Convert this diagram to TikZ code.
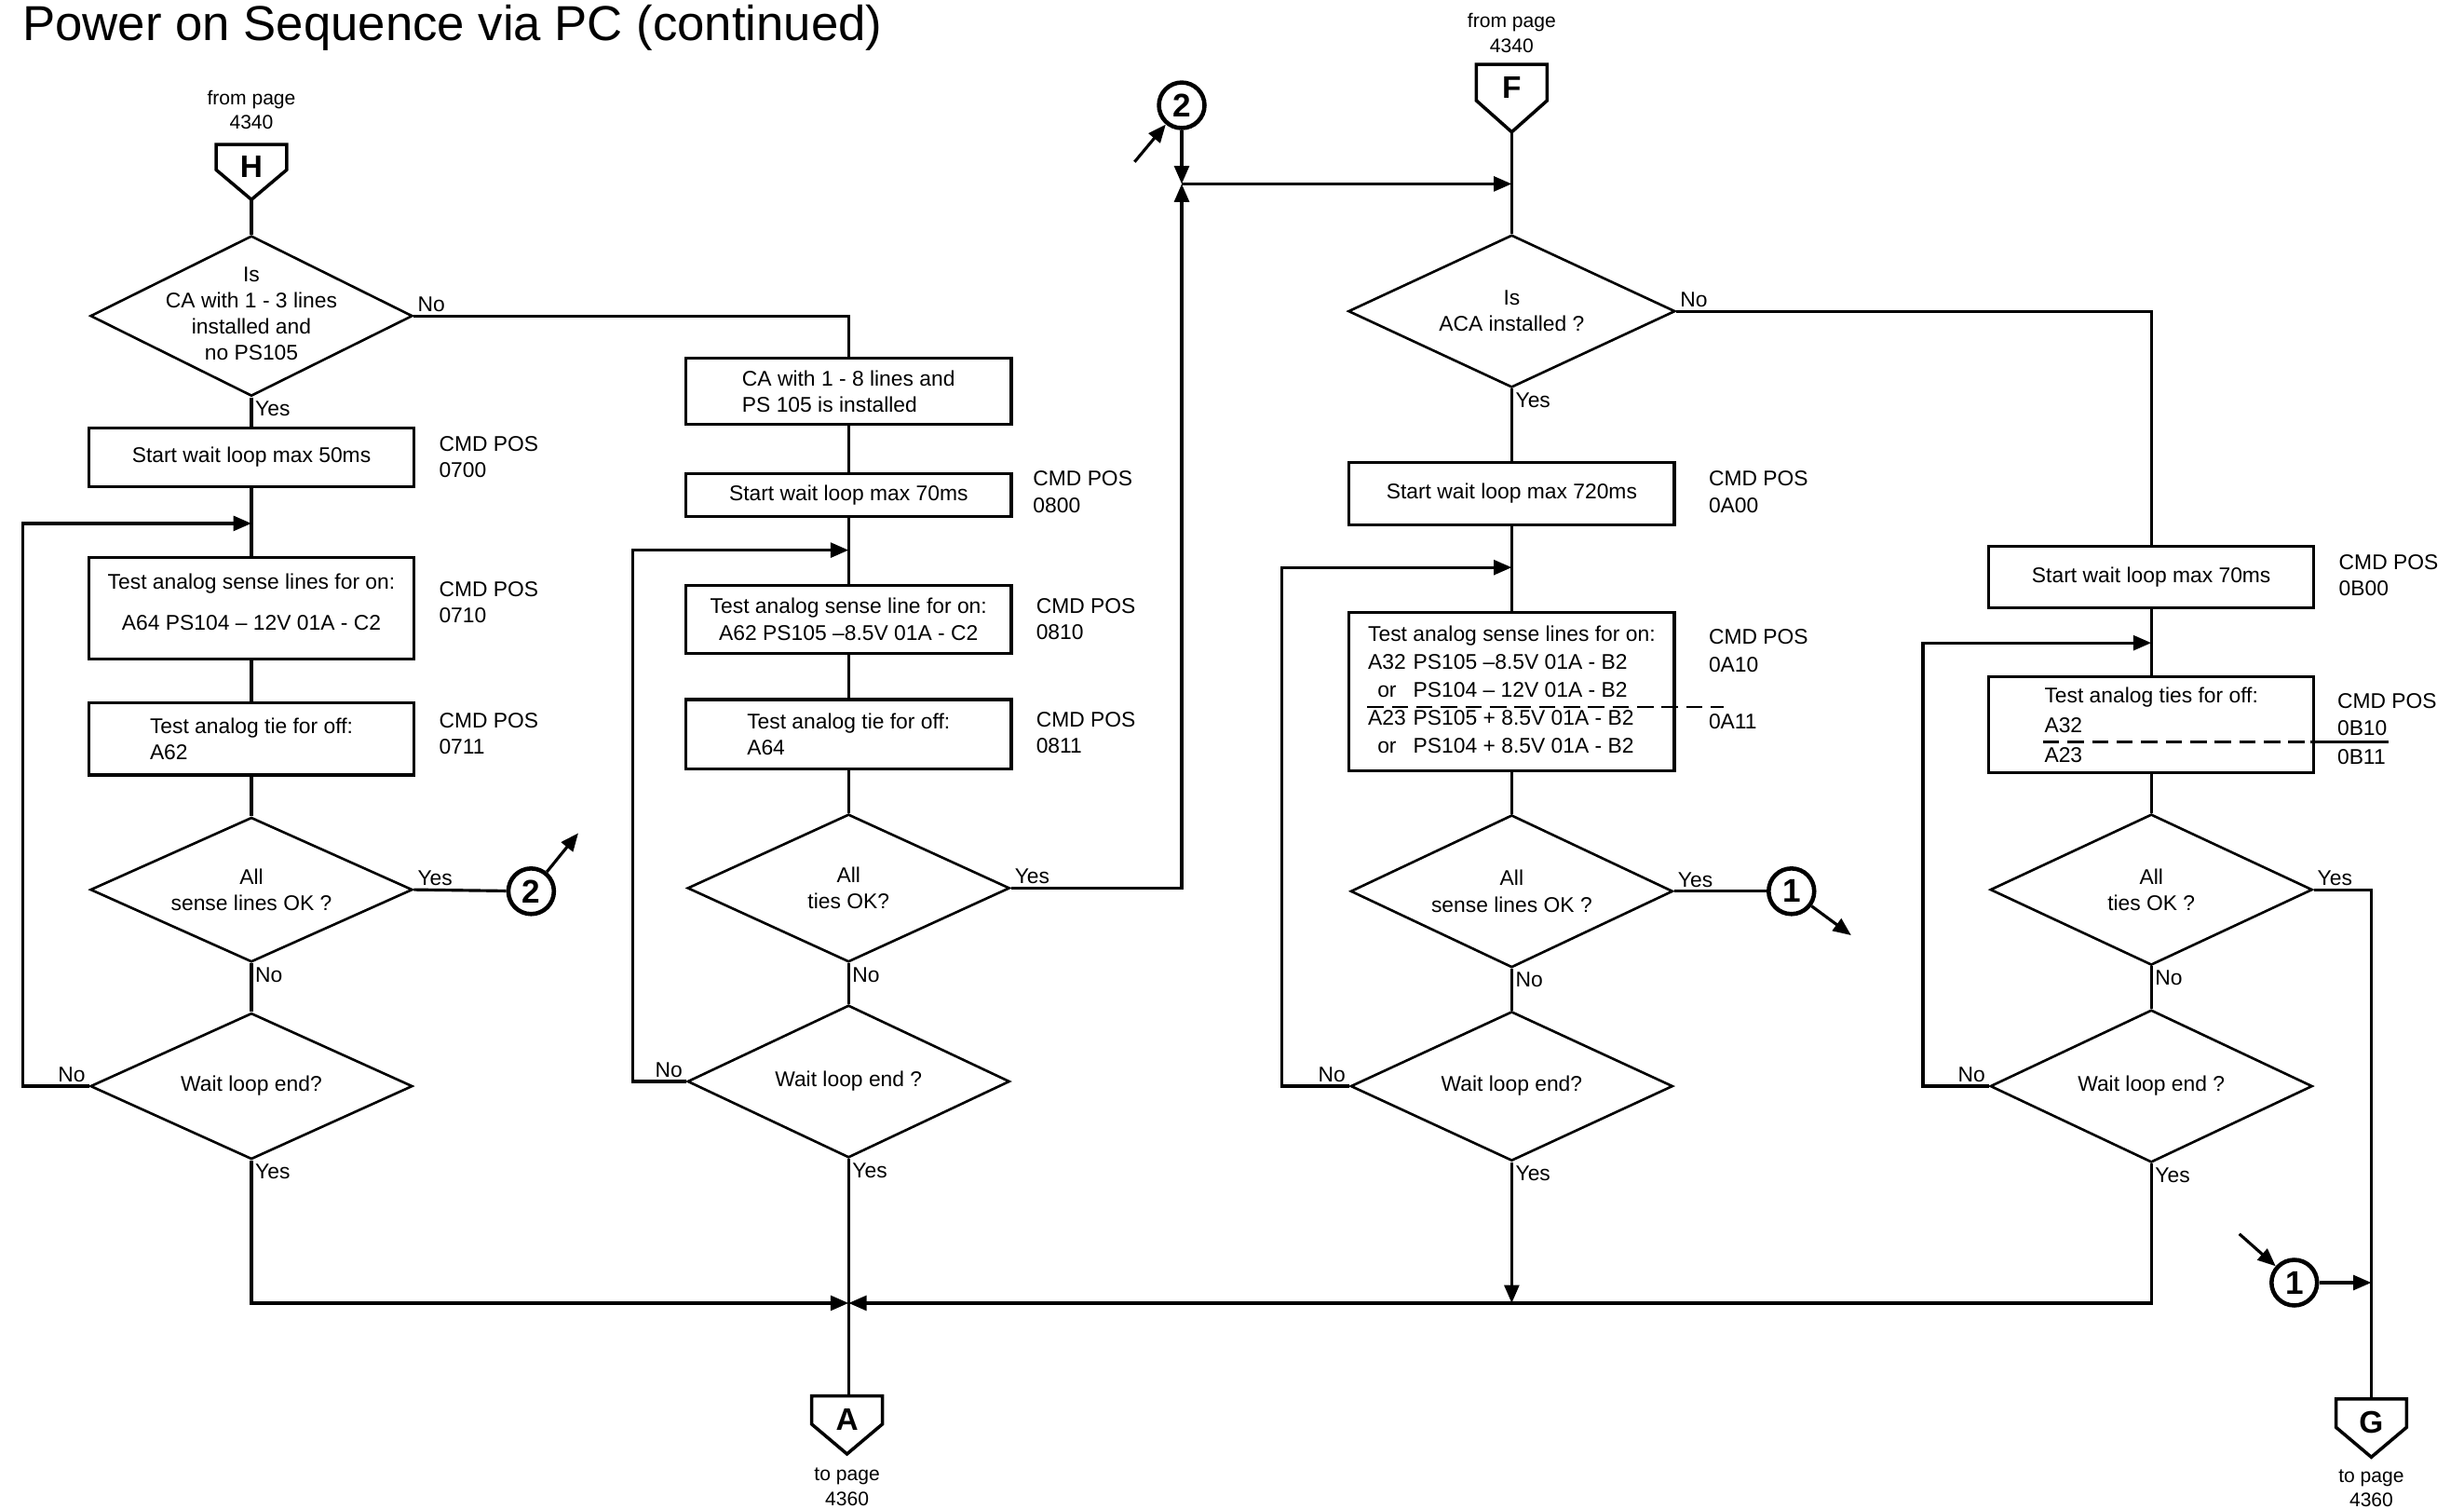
\documentclass[tikz,border=0pt]{standalone}
\usepackage{fontspec}
\setmainfont{Liberation Sans}
\usepackage{tikz}
\usetikzlibrary{arrows.meta,shapes.geometric,calc}
\newcommand{\unitpx}{0.016875cm}
\newcommand{\boxfont}{\fontsize{6.5}{8}\selectfont}
\tikzset{
  flow/.style={line width=0.9pt},
  arr/.style={flow,-{Triangle[length=5.5pt,width=4.5pt]}},
  procbox/.style={draw,line width=0.9pt,minimum width=207*\unitpx,inner sep=1pt,align=center,font=\boxfont},
  dec/.style={draw,diamond,line width=0.75pt,aspect=2.2,inner sep=0pt,minimum width=205*\unitpx,align=center,font=\boxfont},
  cmd/.style={anchor=west,align=left,inner sep=0pt,font=\boxfont},
  lbl/.style={inner sep=1pt,font=\boxfont},
  txt/.style={align=center,inner sep=0pt,font=\fontsize{6}{7.5}\selectfont},
  conn/.style={draw,circle,line width=1.3pt,minimum size=29*\unitpx,inner sep=0pt,font=\bfseries\fontsize{10}{10}\selectfont},
  pgletter/.style={inner sep=0pt,font=\bfseries\fontsize{9.5}{10}\selectfont},
  pgframe/.style={line width=1pt,line join=miter},
  sepline/.style={line width=0.6pt,dash pattern=on 5pt off 2.5pt}
}

\begin{document}
\begin{tikzpicture}[x=\unitpx,y=-\unitpx]
\useasboundingbox (0,0) rectangle (1568,960);
\node[anchor=west,inner sep=0pt,font=\fontsize{15}{18}\selectfont] (title) at (14,18) {Power on Sequence via PC (continued)};

% first column
\node[txt] (fromH) at (160,70) {from page\\4340};
\node[pgletter] (H) at (160,106) {H};
\draw[pgframe] ($(H)+(-22.5,-14)$) -- ($(H)+(22.5,-14)$) -- ($(H)+(22.5,2)$) -- ($(H)+(0,21)$) -- ($(H)+(-22.5,2)$) -- cycle;
\coordinate (Htip) at ($(H)+(0,21)$);
\node[dec,minimum height=102*\unitpx] (d11) at (160,201) {\makebox[0pt]{\begin{tabular}{@{}c@{}}Is\\CA with 1 - 3 lines\\installed and\\no PS105\end{tabular}}};
\node[procbox,minimum height=37*\unitpx] (b11) at (160,291) {Start wait loop max 50ms};
\node[cmd] (m11) at (279,291) {CMD POS\\0700};
\coordinate (j11) at (160,333);
\node[procbox,minimum height=65*\unitpx] (b12) at (160,387) {Test analog sense lines for on:\\[4.4pt]A64 PS104 – 12V 01A - C2\\[-4pt]\mbox{}};
\node[cmd] (m12) at (279,383) {CMD POS\\0710};
\node[procbox,minimum height=46*\unitpx,align=left] (b13) at (160,470) {Test analog tie for off:\\A62};
\node[cmd] (m13) at (279,467) {CMD POS\\0711};
\node[dec,minimum height=92*\unitpx] (d12) at (160,566) {All\\sense lines OK ?};
\node[conn] (c12) at (338,567) {2};
\coordinate (c12o) at (368,530);
\node[dec,minimum height=93*\unitpx] (d13) at (160,691) {Wait loop end?};

\draw[flow] (Htip) -- (d11);
\draw[flow] (d11) -- (b11);
\draw[flow] (b11) -- (b12);
\draw[flow] (b12) -- (b13);
\draw[flow] (b13) -- (d12);
\draw[flow] (d12) -- (d13);
\draw[flow] (d12.east) -- (c12);
\draw[arr] (c12) -- (c12o);
\draw[arr] (d13.west) -- ++(-42,0) |- (j11);
\node[lbl,anchor=north west] (y11) at (d11.south) {Yes};
\node[lbl,anchor=south west] (n12) at (d12.east) {Yes};
\node[lbl,anchor=north west] (n13) at (d12.south) {No};
\node[lbl,anchor=south east] (n14) at (d13.west) {No};
\node[lbl,anchor=north west] (y14) at (d13.south) {Yes};

% second column
\node[procbox,minimum height=42*\unitpx,align=left] (b21) at (540,249) {CA with 1 - 8 lines and\\PS 105 is installed};
\node[procbox,minimum height=27*\unitpx] (b22) at (540,315) {Start wait loop max 70ms};
\node[cmd] (m22) at (657,313) {CMD POS\\0800};
\coordinate (j21) at (540,350);
\node[procbox,minimum height=43*\unitpx] (b23) at (540,394) {Test analog sense line for on:\\A62 PS105 –8.5V 01A - C2};
\node[cmd] (m23) at (659,394) {CMD POS\\0810};
\node[procbox,minimum height=44*\unitpx,align=left] (b24) at (540,467) {Test analog tie for off:\\A64};
\node[cmd] (m24) at (659,466) {CMD POS\\0811};
\node[dec,minimum height=94*\unitpx] (d21) at (540,565) {All\\ties OK?};
\node[dec,minimum height=97*\unitpx] (d22) at (540,688) {Wait loop end ?};
\coordinate (j22) at (540,829);
\node[pgletter] (A) at (539,903) {A};
\draw[pgframe] ($(A)+(-22.5,-15)$) -- ($(A)+(22.5,-15)$) -- ($(A)+(22.5,3)$) -- ($(A)+(0,22)$) -- ($(A)+(-22.5,3)$) -- cycle;
\coordinate (Atop) at ($(A)+(0,-15)$);
\node[txt] (toA) at (539,946) {to page\\4360};

\draw[flow] (d11.east) -| (b21.north);
\node[lbl,anchor=south west] (n11) at (d11.east) {No};
\draw[flow] (b21) -- (b22);
\draw[flow] (b22) -- (b23);
\draw[flow] (b23) -- (b24);
\draw[flow] (b24) -- (d21);
\draw[flow] (d21) -- (d22);
\draw[flow] (d22.south) -- (d22.south |- Atop);
\draw[arr] (d22.west) -- ++(-34,0) |- (j21);
\draw[arr] (d13.south) |- (j22);
\node[lbl,anchor=north west] (n21) at (d21.south) {No};
\node[lbl,anchor=south east] (n22) at (d22.west) {No};
\node[lbl,anchor=north west] (y22) at (d22.south) {Yes};

% entry 2 and F
\node[conn] (c2t) at (752,67) {2};
\coordinate (c2ti) at (722,103);
\coordinate (jt) at (752,117);
\node[txt] (fromF) at (962,21) {from page\\4340};
\node[pgletter] (F) at (962,56) {F};
\draw[pgframe] ($(F)+(-22.5,-15)$) -- ($(F)+(22.5,-15)$) -- ($(F)+(22.5,8)$) -- ($(F)+(0,28)$) -- ($(F)+(-22.5,8)$) -- cycle;
\coordinate (Ftip) at ($(F)+(0,28)$);
\coordinate (jF) at (962,117);
\draw[arr] (c2ti) -- (c2t);
\draw[arr] (c2t) -- (jt);
\draw[arr] (d21.east) -| (jt);
\node[lbl,anchor=south west] (y21) at (d21.east) {Yes};
\draw[arr] (jt) -- (jF);

% third column
\node[dec,minimum height=97*\unitpx,minimum width=208*\unitpx] (d31) at (962,198) {Is\\ACA installed ?};
\node[procbox,minimum height=40*\unitpx] (b31) at (962,314) {Start wait loop max 720ms};
\node[cmd] (m31) at (1087,313) {CMD POS\\0A00};
\coordinate (j31) at (962,361);
\node[procbox,minimum height=101*\unitpx,font=\fontsize{6.5}{8.6}\selectfont] (b32) at (962,440) {%
  \begin{tabular}{@{}c@{\hspace{0.35em}}l@{}}
  \multicolumn{2}{@{}l@{}}{Test analog sense lines for on:}\\
  A32 & PS105 –8.5V 01A - B2\\
  or & PS104 – 12V 01A - B2\\
  A23 & PS105 + 8.5V 01A - B2\\
  or & PS104 + 8.5V 01A - B2
  \end{tabular}};
\node[cmd,font=\fontsize{6.5}{8.6}\selectfont] (m32) at (1087,432) {CMD POS\\0A10\\[8.6pt]0A11};
\draw[sepline] (870,450) -- (1097,450);
\node[dec,minimum height=97*\unitpx] (d32) at (962,567) {All\\sense lines OK ?};
\node[conn] (c31) at (1140,567) {1};
\coordinate (c31o) at (1178,595);
\node[dec,minimum height=95*\unitpx] (d33) at (962,691) {Wait loop end?};
\coordinate (j33) at (962,829);

\draw[flow] (Ftip) -- (d31);
\draw[flow] (d31) -- (b31);
\draw[flow] (b31) -- (b32);
\draw[flow] (b32) -- (d32);
\draw[flow] (d32) -- (d33);
\draw[flow] (d32.east) -- (c31);
\draw[arr] (c31) -- (c31o);
\draw[arr] (d33.west) -- ++(-43,0) |- (j31);
\draw[arr] (d33.south) -- (j33);
\node[lbl,anchor=north west] (y31) at (d31.south) {Yes};
\node[lbl,anchor=south west] (y32) at (d32.east) {Yes};
\node[lbl,anchor=north west] (n32) at (d32.south) {No};
\node[lbl,anchor=south east] (n33) at (d33.west) {No};
\node[lbl,anchor=north west] (y33) at (d33.south) {Yes};

% fourth column
\node[procbox,minimum height=39*\unitpx] (b41) at (1369,367) {Start wait loop max 70ms};
\node[cmd] (m41) at (1488,366) {CMD POS\\0B00};
\coordinate (j41) at (1369,409);
\node[procbox,minimum height=61*\unitpx,align=left,font=\fontsize{6.5}{9.1}\selectfont] (b42) at (1369,461) {Test analog ties for off:\\A32\\A23};
\node[cmd] (m42) at (1487,464) {CMD POS\\0B10\\[1pt]0B11};
\draw[sepline] (1300,472) -- (1470,472);
\draw[line width=0.6pt] (1470,472) -- (1520,472);
\node[dec,minimum height=96*\unitpx] (d41) at (1369,566) {All\\ties OK ?};
\node[dec,minimum height=97*\unitpx] (d42) at (1369,691) {Wait loop end ?};
\node[conn] (c41) at (1460,816) {1};
\coordinate (c41i) at (1425,785);
\node[pgletter] (G) at (1509,905) {G};
\draw[pgframe] ($(G)+(-22.5,-15)$) -- ($(G)+(22.5,-15)$) -- ($(G)+(22.5,3)$) -- ($(G)+(0,22)$) -- ($(G)+(-22.5,3)$) -- cycle;
\coordinate (Gtop) at ($(G)+(0,-15)$);
\node[txt] (toG) at (1509,947) {to page\\4360};

\draw[flow] (d31.east) -| (b41.north);
\node[lbl,anchor=south west] (n31) at (d31.east) {No};
\draw[flow] (b41) -- (b42);
\draw[flow] (b42) -- (d41);
\draw[flow] (d41) -- (d42);
\draw[flow] (d41.east) -| (Gtop);
\draw[arr] (d42.west) -- ++(-42,0) |- (j41);
\draw[arr] (d42.south) |- (j22);
\draw[arr] (c41i) -- (c41);
\draw[arr] (c41) -- (c41 -| Gtop);
\node[lbl,anchor=south west] (y41) at (d41.east) {Yes};
\node[lbl,anchor=north west] (n41) at (d41.south) {No};
\node[lbl,anchor=south east] (n42) at (d42.west) {No};
\node[lbl,anchor=north west] (y42) at (d42.south) {Yes};
\end{tikzpicture}
\end{document}
